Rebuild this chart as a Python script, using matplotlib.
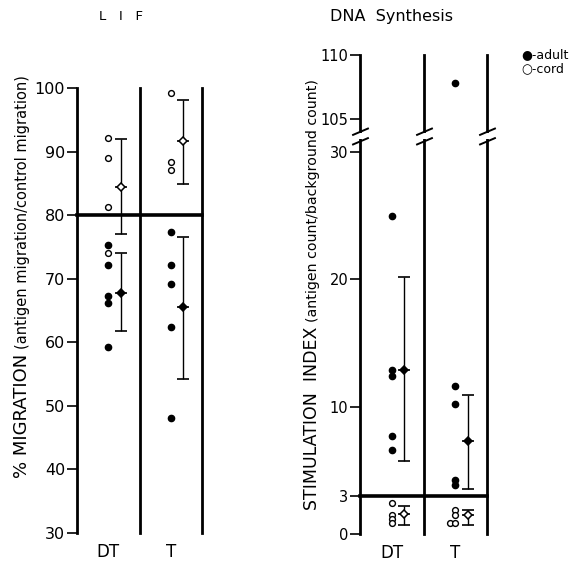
import numpy as np
import matplotlib
matplotlib.use('Agg')
import matplotlib.pyplot as plt
from matplotlib.path import Path
import matplotlib.transforms as mtransforms

# ---------------- data ----------------
categories = ['DT', 'T']

# LIF panel (% migration)
lif_adult = [[75.3, 72.2, 67.3, 66.2, 59.3], [77.3, 72.2, 69.2, 62.4, 48.1]]
lif_cord = [[92.2, 89.0, 81.3, 74.1], [99.2, 88.3, 87.1]]
lif_adult_mean = [67.8, 65.6]
lif_adult_lo = [61.8, 54.2]
lif_adult_hi = [74.1, 76.6]
lif_cord_mean = [84.5, 91.6]
lif_cord_lo = [77.0, 84.9]
lif_cord_hi = [91.9, 98.1]
lif_threshold = 80
lif_ticks = [30, 40, 50, 60, 70, 80, 90, 100]

# DNA synthesis panel (stimulation index)
dna_adult = [[25.0, 12.9, 12.4, 7.7, 6.6], [107.8, 11.6, 10.2, 4.2, 3.85]]
dna_cord = [[2.4, 1.5, 1.15, 0.85], [1.9, 1.5, 0.9, 0.9]]
dna_cord_xoff = [[0, 0, 0, 0], [0, 0, -0.09, 0]]
dna_adult_mean = [12.9, 7.3]
dna_adult_lo = [5.7, 3.5]
dna_adult_hi = [20.2, 10.9]
dna_cord_mean = [1.55, 1.5]
dna_cord_lo = [0.7, 0.7]
dna_cord_hi = [2.2, 1.9]
dna_threshold = 3
dna_ticks = [0, 3, 10, 20, 30, 105, 110]

# ---------------- figure ----------------
W, H = 575, 561
plt.rcParams['font.family'] = ['DejaVu Sans']
fig = plt.figure(figsize=(W / 100, H / 100), dpi=100)

MEAN_OFF = 0.2
GAP = 2.6


def fwd(v):
    v = np.asarray(v, dtype=float)
    return np.where(v <= 30, v,
                    np.where(v >= 105, v - 105 + 30 + GAP,
                             30 + (v - 30) * GAP / 75.0))


def inv(t):
    t = np.asarray(t, dtype=float)
    return np.where(t <= 30, t,
                    np.where(t >= 30 + GAP, t - 30 - GAP + 105,
                             30 + (t - 30) * 75.0 / GAP))


def style_axes(ax, ticks, fs):
    for s in ['top', 'right', 'bottom']:
        ax.spines[s].set_visible(False)
    ax.spines['left'].set_linewidth(2.0)
    ax.set_xlim(-0.5, 1.5)
    ax.set_yticks(ticks)
    ax.set_yticklabels([str(t) for t in ticks])
    ax.tick_params(axis='y', length=7, width=1.2, pad=1.5, labelsize=fs)
    ax.set_xticks([0, 1])
    ax.set_xticklabels(categories)
    ax.tick_params(axis='x', length=0, pad=7, labelsize=12)
    for xv in (0.5, 1.5):
        ax.axvline(xv, color='k', lw=2.0, clip_on=False)


def draw_group(ax, adult, cord, a_mean, a_lo, a_hi, c_mean, c_lo, c_hi, cord_xoff=None):
    for i in range(len(categories)):
        ax.plot([i] * len(adult[i]), adult[i], 'o', color='k', ms=4.5,
                zorder=4, clip_on=False)
        xo = cord_xoff[i] if cord_xoff is not None else [0] * len(cord[i])
        ax.plot([i + o for o in xo], cord[i], 'o', mfc='white', mec='k',
                ms=4.2, mew=1.0, zorder=4, clip_on=False)
        for m, lo, hi, fc in ((a_mean[i], a_lo[i], a_hi[i], 'k'),
                              (c_mean[i], c_lo[i], c_hi[i], 'white')):
            ax.errorbar([i + MEAN_OFF], [m], yerr=[[m - lo], [hi - m]],
                        fmt='none', ecolor='k', lw=1.0, capsize=4.5,
                        capthick=1.2, zorder=5, clip_on=False)
            ax.plot([i + MEAN_OFF], [m], marker='_', color='k', ms=9, mew=1.2,
                    zorder=5, clip_on=False)
            ax.plot([i + MEAN_OFF], [m], marker='D', mfc=fc, mec='k', ms=4.5,
                    mew=1.1, zorder=6, clip_on=False)


# ---- LIF panel ----
ax1 = fig.add_axes([77 / W, (H - 533) / H, 125 / W, 445 / H])
ax1.set_ylim(30, 100)
style_axes(ax1, lif_ticks, 11.5)
ax1.axhline(lif_threshold, color='k', lw=2.6, clip_on=False)
draw_group(ax1, lif_adult, lif_cord, lif_adult_mean, lif_adult_lo, lif_adult_hi,
           lif_cord_mean, lif_cord_lo, lif_cord_hi)

# ---- DNA panel ----
ax2 = fig.add_axes([360 / W, (H - 534) / H, 127 / W, 479 / H])
ax2.set_yscale('function', functions=(fwd, inv))
ax2.set_ylim(0, 110)
style_axes(ax2, dna_ticks, 10.5)
ax2.axhline(dna_threshold, color='k', lw=2.6, clip_on=False)
draw_group(ax2, dna_adult, dna_cord, dna_adult_mean, dna_adult_lo, dna_adult_hi,
           dna_cord_mean, dna_cord_lo, dna_cord_hi, dna_cord_xoff)

# break marks "//" with a small gap in the vertical lines
btr = mtransforms.blended_transform_factory(ax2.transData, ax2.transAxes)
ax2.plot([-0.5, 0.5, 1.5], [0.831] * 3, ls='none', marker='|', ms=5,
         mew=4, color='white', transform=btr, clip_on=False, zorder=6)
brk = Path([(-1, -1.0), (1, -0.15), (-1, 0.15), (1, 1.0)],
           [Path.MOVETO, Path.LINETO, Path.MOVETO, Path.LINETO])
ax2.plot([-0.5, 0.5, 1.5], [0.831] * 3, ls='none', marker=brk, ms=12,
         mew=1.4, color='k', transform=btr, clip_on=False, zorder=7)

# titles
fig.text(121 / W, 1 - 16 / H, 'L   I   F', ha='center', va='center', fontsize=9.5)
fig.text(391 / W, 1 - 16 / H, 'DNA  Synthesis', ha='center', va='center', fontsize=11.5)

# legend
fig.text(521 / W, 1 - 55 / H, '\u25cf-adult', ha='left', va='center', fontsize=9)
fig.text(521 / W, 1 - 69 / H, '\u25cb-cord', ha='left', va='center', fontsize=9)

# y labels (large + small parts)
fig.canvas.draw()
rend = fig.canvas.get_renderer()


def stacked_label(x_px, y_px, big, small, fs_big, fs_small, gap=5):
    t1 = fig.text(x_px / W, (H - y_px) / H, big, rotation=90,
                  rotation_mode='anchor', ha='left', va='baseline',
                  fontsize=fs_big)
    bb = t1.get_window_extent(rend)
    y2 = (H - y_px) + bb.height + gap
    fig.text(x_px / W, y2 / H, small, rotation=90, rotation_mode='anchor',
             ha='left', va='baseline', fontsize=fs_small)


stacked_label(27, 478, '% MIGRATION', '(antigen migration/control migration)', 13, 10.5)
stacked_label(317, 510, 'STIMULATION  INDEX', '(antigen count/background count)', 12.5, 10.2)

fig.savefig('out.png', dpi=100)
